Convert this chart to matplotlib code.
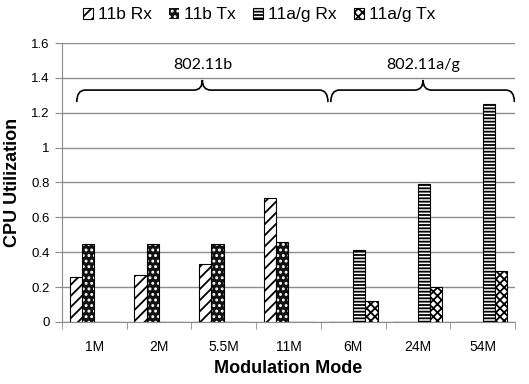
import numpy as np
import matplotlib
matplotlib.use("Agg")
import matplotlib.pyplot as plt
from matplotlib.patches import Patch, PathPatch
from matplotlib.path import Path

plt.rcParams['font.family'] = ['Liberation Sans', 'DejaVu Sans']
plt.rcParams['hatch.linewidth'] = 1.3

# data
modes = ['1M', '2M', '5.5M', '11M', '6M', '24M', '54M']
b_rx = [0.26, 0.27, 0.33, 0.71, 0, 0, 0]
b_tx = [0.45, 0.45, 0.45, 0.46, 0, 0, 0]
ag_rx = [0, 0, 0, 0, 0.41, 0.79, 1.25]
ag_tx = [0, 0, 0, 0, 0.12, 0.20, 0.29]
series_names = ['11b Rx', '11b Tx', '11a/g Rx', '11a/g Tx']

# brace groups: (label, start, end, tip) in category units
groups = [('802.11b', -0.27, 3.61, 1.67),
          ('802.11a/g', 3.655, 6.49, 5.08)]

fig = plt.figure(figsize=(5.29, 3.84), dpi=100)
ax = fig.add_axes([0.117, 0.1615, 0.8565, 0.7265])

x = np.arange(len(modes))
w = 0.19
offs = [-1.5 * w, -0.5 * w, 0.5 * w, 1.5 * w]

ax.bar(x + offs[0], b_rx, w, facecolor='white', edgecolor='black', hatch='///', lw=0.8, zorder=3)
# dark bars with white dots, then outline on top
ax.bar(x + offs[1], b_tx, w, facecolor='#111111', edgecolor='white', hatch='...', lw=0, zorder=3)
ax.bar(x + offs[1], b_tx, w, fill=False, edgecolor='black', lw=0.8, zorder=4)
ax.bar(x + offs[2], ag_rx, w, facecolor='white', edgecolor='black', hatch='-----', lw=0.8, zorder=3)
ax.bar(x + offs[3], ag_tx, w, facecolor='white', edgecolor='black', hatch='xxxx', lw=0.8, zorder=3)

ax.set_xlim(-0.5, len(modes) - 0.5)
ax.set_ylim(0, 1.6)
ax.set_yticks(np.arange(0, 1.61, 0.2))
ax.set_yticklabels(['0', '0.2', '0.4', '0.6', '0.8', '1', '1.2', '1.4', '1.6'], fontsize=9.5)
ax.yaxis.grid(True, color='#8c8c8c', lw=1.0, zorder=0)
ax.set_axisbelow(True)

ax.set_xticks(x)
ax.set_xticklabels(modes, fontsize=10)
ax.tick_params(axis='x', which='major', length=0, pad=13)
ax.set_xticks(np.arange(-0.5, len(modes), 1), minor=True)
ax.tick_params(axis='x', which='minor', length=5, color='#8c8c8c', direction='out')
ax.tick_params(axis='y', length=5, color='#8c8c8c', pad=4)

for s in ['top', 'right']:
    ax.spines[s].set_visible(False)
for s in ['left', 'bottom']:
    ax.spines[s].set_color('#8c8c8c')

ax.set_xlabel('Modulation Mode', fontsize=13, fontweight='bold', labelpad=4)
ax.set_ylabel('CPU Utilization', fontsize=13, fontweight='bold', labelpad=7)

# curly braces over the two groups
yb, ym, yt = 1.261, 1.33, 1.388
rx = 0.13
for label, x0, x1, xt in groups:
    verts = [(x0, yb), (x0, ym), (x0 + rx, ym),
             (xt - rx, ym), (xt, ym), (xt, yt),
             (xt, ym), (xt + rx, ym),
             (x1 - rx, ym), (x1, ym), (x1, yb)]
    codes = [Path.MOVETO, Path.CURVE3, Path.CURVE3,
             Path.LINETO, Path.CURVE3, Path.CURVE3,
             Path.CURVE3, Path.CURVE3,
             Path.LINETO, Path.CURVE3, Path.CURVE3]
    ax.add_patch(PathPatch(Path(verts, codes), fill=False, lw=1.2, edgecolor='black', zorder=5))
    ax.text(xt, 1.474, label, ha='center', va='center', fontsize=11.5,
            family=['Lato', 'DejaVu Sans'])

handles = [Patch(facecolor='white', edgecolor='black', hatch='///', lw=0.8),
           Patch(facecolor='#111111', edgecolor='white', hatch='...', lw=0),
           Patch(facecolor='white', edgecolor='black', hatch='-----', lw=0.8),
           Patch(facecolor='white', edgecolor='black', hatch='xxxx', lw=0.8)]
fig.legend(handles, series_names, loc='center', bbox_to_anchor=(0.49, 0.961), ncol=4,
           frameon=False, fontsize=12.5, handlelength=0.55, handleheight=0.55,
           handletextpad=0.3, columnspacing=1.0, borderaxespad=0)

fig.savefig('out.png', dpi=100)
